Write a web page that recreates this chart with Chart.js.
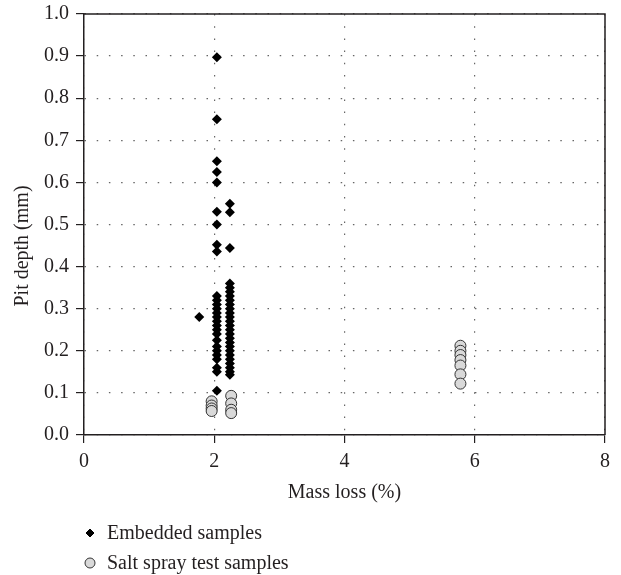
<!DOCTYPE html>
<html>
<head>
<meta charset="utf-8">
<script src="https://cdn.jsdelivr.net/npm/chart.js@4"></script>
<style>
 html,body{margin:0;padding:0;background:#fff;}
 #wrap{width:621px;height:575px;}
</style>
</head>
<body>
<div id="wrap"><canvas id="chart" width="621" height="575"></canvas></div>
<script>
// pit depth vs mass loss, two sample groups

// embedded samples: one stray point, then the 2.04 % and 2.24 % columns
let embeddedX=[1.77,
 2.04,2.04,2.04,2.04,2.04,2.04,2.04,2.04,2.04,
 2.04,2.04,2.04,2.04,2.04,2.04,2.04,2.04,2.04,
 2.04,2.04,2.04,2.04,2.04,2.04,2.04,2.04,2.04,
 2.24,2.24,2.24,2.24,2.24,2.24,2.24,2.24,2.24,
 2.24,2.24,2.24,2.24,2.24,2.24,2.24,2.24,2.24,
 2.24,2.24,2.24,2.24,2.24,2.24,2.24,2.24];
let embeddedY=[0.28,
 0.897,0.75,0.65,0.625,0.6,0.53,0.5,0.452,0.436,
 0.33,0.32,0.31,0.30,0.29,0.28,0.27,0.26,0.25,
 0.24,0.225,0.21,0.20,0.19,0.18,0.16,0.15,0.105,
 0.549,0.529,0.444,0.36,0.35,0.34,0.33,0.32,0.31,
 0.30,0.29,0.28,0.27,0.26,0.25,0.24,0.23,0.22,
 0.21,0.20,0.19,0.18,0.17,0.16,0.15,0.143];

let saltX=[1.96,1.96,1.96,1.96, 2.26,2.26,2.26,2.26, 5.78,5.78,5.78,5.78,5.78,5.78,5.78];
let saltY=[0.08,0.07,0.063,0.057, 0.093,0.075,0.06,0.052, 0.212,0.2,0.19,0.178,0.165,0.144,0.122];

let seriesNames=["Embedded samples","Salt spray test samples"];
let xTitle="Mass loss (%)";
let yTitle="Pit depth (mm)";
let xTicks=[0,2,4,6,8];
let yTicks=[0,0.1,0.2,0.3,0.4,0.5,0.6,0.7,0.8,0.9,1.0];

const FONT="'Liberation Serif', 'DejaVu Serif', serif";
const INK="#231f20";

const pts=(xs,ys)=>xs.map((x,i)=>({x:x,y:ys[i]}));

// box round the plot area (top + right sides)
const frame={
 id:'frame',
 afterDatasetsDraw(c){
  const a=c.chartArea, ctx=c.ctx;
  ctx.save();
  ctx.strokeStyle=INK; ctx.lineWidth=1.5;
  ctx.beginPath();
  ctx.moveTo(a.left,a.top); ctx.lineTo(a.right,a.top); ctx.lineTo(a.right,a.bottom);
  ctx.stroke();
  ctx.restore();
 }
};

// y title sits a bit below the axis middle, so it is drawn here
const sideTitle={
 id:'sideTitle',
 afterDraw(c){
  const ctx=c.ctx;
  ctx.save();
  ctx.translate(23,246);
  ctx.rotate(-Math.PI/2);
  ctx.font="20px "+FONT; ctx.fillStyle=INK;
  ctx.textAlign="center"; ctx.textBaseline="middle";
  ctx.fillText(yTitle,0,0);
  ctx.restore();
 }
};

// legend items stacked under the x axis
const stackLegend={
 id:'stackLegend',
 afterDraw(c){
  const ctx=c.ctx;
  c.data.datasets.forEach((ds,i)=>{
   const y=533+i*30;
   ctx.save();
   ctx.fillStyle=ds.backgroundColor; ctx.strokeStyle=ds.borderColor; ctx.lineWidth=1;
   Chart.helpers.drawPoint(ctx,{pointStyle:ds.pointStyle,radius:i==0?4:5,borderWidth:1},90,y);
   ctx.font="20px "+FONT; ctx.textBaseline="middle"; ctx.fillStyle=INK;
   ctx.fillText(ds.label,107,y+1);
   ctx.restore();
  });
 }
};

const gridOpts={color:"#666",lineWidth:1.2,tickLength:8,tickColor:INK,tickWidth:1.2,tickBorderDash:[]};

// no extra room for half-labels at the ends: plot box is set by layout padding
const noEndPad=s=>{ s.paddingTop=0; s.paddingBottom=0; s.paddingLeft=0; s.paddingRight=0; };

new Chart(document.getElementById('chart'),{
 type:'scatter',
 data:{
  datasets:[
   {label:seriesNames[0],data:pts(embeddedX,embeddedY),pointStyle:'rectRot',pointRadius:5,
    backgroundColor:"#000",borderColor:"#000",borderWidth:0},
   {label:seriesNames[1],data:pts(saltX,saltY),pointStyle:'circle',pointRadius:5.5,
    backgroundColor:"#d9d9d9",borderColor:"#333",borderWidth:1}
  ]
 },
 options:{
  responsive:false,
  animation:false,
  layout:{padding:{top:14,right:16,bottom:65,left:0}},
  plugins:{legend:{display:false},tooltip:{enabled:false}},
  scales:{
   x:{
    type:'linear',min:0,max:8,
    afterBuildTicks(s){ s.ticks=xTicks.map(v=>({value:v})); },
    afterFit(s){ s.height=75; noEndPad(s); },
    ticks:{color:INK,font:{family:FONT,size:20},padding:7,callback:v=>v},
    grid:gridOpts,
    border:{color:INK,width:1.5,dash:[1.5,10.7]},
    title:{display:true,text:xTitle,color:INK,font:{family:FONT,size:20},padding:{top:0,bottom:5}}
   },
   y:{
    type:'linear',min:0,max:1,
    afterBuildTicks(s){ s.ticks=yTicks.map(v=>({value:v})); },
    afterFit(s){ s.width=84; noEndPad(s); },
    ticks:{color:INK,font:{family:FONT,size:20},padding:7,callback:v=>v.toFixed(1)},
    grid:gridOpts,
    border:{color:INK,width:1.5,dash:[1.5,10.7]},
    title:{display:false}
   }
  }
 },
 plugins:[frame,sideTitle,stackLegend]
});
</script>
</body>
</html>
